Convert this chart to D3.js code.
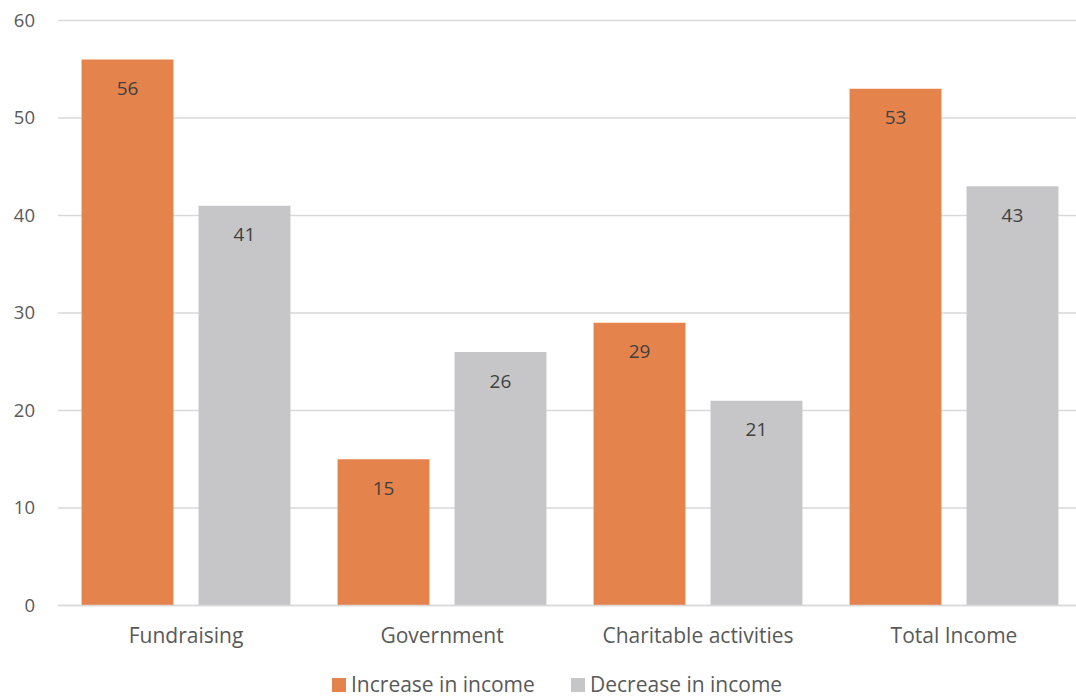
<!DOCTYPE html>
<html><head><meta charset="utf-8">
<script src="https://cdn.jsdelivr.net/npm/d3@7"></script>
<style>body{margin:0;background:#fff;}svg{display:block;font-family:"Open Sans",sans-serif;}</style>
</head><body>
<svg id="c" width="1076" height="700"></svg>
<script>
const categories = ["Fundraising", "Government", "Charitable activities", "Total Income"];
const seriesNames = ["Increase in income", "Decrease in income"];
const increase = [56, 15, 29, 53];
const decrease = [41, 26, 21, 43];
const yTicks = [0, 10, 20, 30, 40, 50, 60];
const colors = ["#E5834C", "#C6C6C8"];

const svg = d3.select("#c");
const x0 = d3.scaleBand().domain(categories).range([58, 1082]).paddingInner(0.184).paddingOuter(0.092);
const x1 = d3.scaleBand().domain(seriesNames).range([0, x0.bandwidth()]).paddingInner(0.214);
const y = d3.scaleLinear().domain([0, 60]).range([605.5, 20.5]);

svg.append("g").selectAll("line").data(yTicks).join("line")
  .attr("x1", 58).attr("x2", 1076)
  .attr("y1", d => y(d)).attr("y2", d => y(d))
  .attr("stroke", "#D9D9D9").attr("stroke-width", 1.5);

svg.append("g").selectAll("text").data(yTicks).join("text")
  .attr("x", 35).attr("y", d => y(d)).attr("dy", "0.35em")
  .attr("text-anchor", "end").attr("font-size", 18.5).attr("fill", "#595959")
  .text(d => d);

const data = categories.map((c, i) => ({cat: c, vals: [increase[i], decrease[i]]}));
const groups = svg.append("g").selectAll("g").data(data).join("g")
  .attr("transform", d => `translate(${x0(d.cat)},0)`);

groups.selectAll("rect").data(d => d.vals.map((v, j) => ({s: seriesNames[j], v, j}))).join("rect")
  .attr("x", d => x1(d.s)).attr("width", x1.bandwidth())
  .attr("y", d => y(d.v)).attr("height", d => y(0) - y(d.v))
  .attr("fill", d => colors[d.j]);

groups.selectAll("text").data(d => d.vals.map((v, j) => ({s: seriesNames[j], v, j}))).join("text")
  .attr("x", d => x1(d.s) + x1.bandwidth() / 2)
  .attr("y", d => y(d.v) + 29).attr("dy", "0.35em")
  .attr("text-anchor", "middle").attr("font-size", 19).attr("fill", "#404040")
  .text(d => d.v);

svg.append("line").attr("x1", 58).attr("x2", 1076).attr("y1", y(0)).attr("y2", y(0))
  .attr("stroke", "#D9D9D9").attr("stroke-width", 1.5);

svg.append("g").selectAll("text").data(categories).join("text")
  .attr("x", d => x0(d) + x0.bandwidth() / 2).attr("y", 636).attr("dy", "0.35em")
  .attr("text-anchor", "middle").attr("font-size", 21).attr("fill", "#595959")
  .text(d => d);

const legendX = [332, 571];
const lg = svg.append("g").selectAll("g").data(seriesNames).join("g")
  .attr("transform", (d, i) => `translate(${legendX[i]},678)`);
lg.append("rect").attr("width", 14).attr("height", 14).attr("fill", (d, i) => colors[i]);
lg.append("text").attr("x", 19).attr("y", 6.5).attr("dy", "0.35em")
  .attr("font-size", 21).attr("fill", "#595959").text(d => d);
</script>
</body></html>
